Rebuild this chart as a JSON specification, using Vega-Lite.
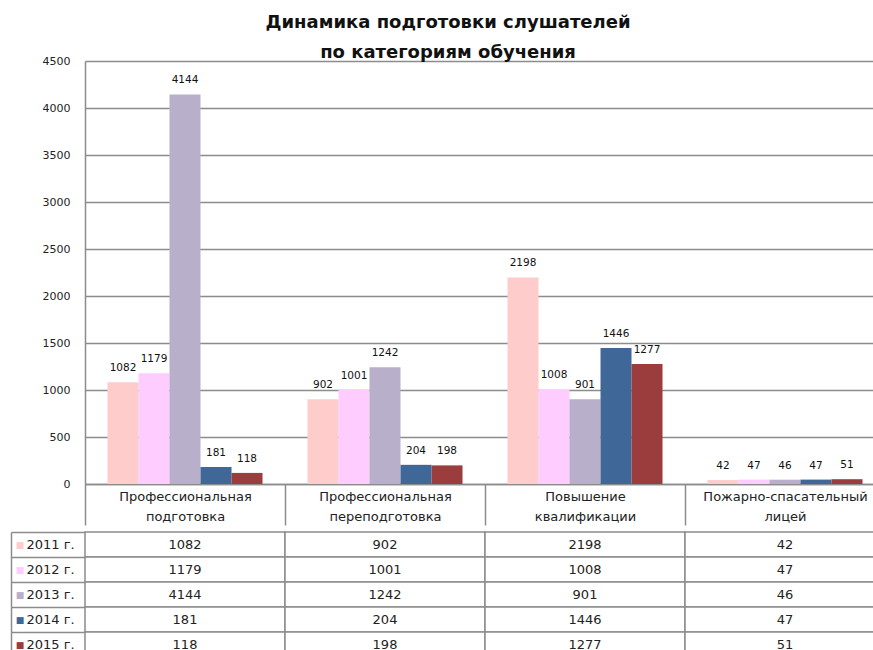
{
  "$schema": "https://vega.github.io/schema/vega-lite/v6.json",
  "padding": {"left": 10, "top": 14, "right": 0, "bottom": 0},
  "background": "white",
  "title": {
    "text": ["Динамика подготовки слушателей", "по категориям обучения"],
    "font": "DejaVu Sans",
    "fontSize": 18,
    "fontWeight": "bold",
    "color": "#111111",
    "anchor": "middle",
    "lineHeight": 30,
    "offset": -7
  },
  "config": {
    "font": "DejaVu Sans",
    "view": {"stroke": null},
    "concat": {"spacing": 0}
  },
  "datasets": {
    "d": [
      {"cat": "Профессиональная подготовка", "year": "2011 г.", "value": 1082},
      {"cat": "Профессиональная подготовка", "year": "2012 г.", "value": 1179},
      {"cat": "Профессиональная подготовка", "year": "2013 г.", "value": 4144},
      {"cat": "Профессиональная подготовка", "year": "2014 г.", "value": 181},
      {"cat": "Профессиональная подготовка", "year": "2015 г.", "value": 118},
      {"cat": "Профессиональная переподготовка", "year": "2011 г.", "value": 902},
      {"cat": "Профессиональная переподготовка", "year": "2012 г.", "value": 1001},
      {"cat": "Профессиональная переподготовка", "year": "2013 г.", "value": 1242},
      {"cat": "Профессиональная переподготовка", "year": "2014 г.", "value": 204},
      {"cat": "Профессиональная переподготовка", "year": "2015 г.", "value": 198},
      {"cat": "Повышение квалификации", "year": "2011 г.", "value": 2198},
      {"cat": "Повышение квалификации", "year": "2012 г.", "value": 1008},
      {"cat": "Повышение квалификации", "year": "2013 г.", "value": 901},
      {"cat": "Повышение квалификации", "year": "2014 г.", "value": 1446},
      {"cat": "Повышение квалификации", "year": "2015 г.", "value": 1277},
      {"cat": "Пожарно-спасательный лицей", "year": "2011 г.", "value": 42},
      {"cat": "Пожарно-спасательный лицей", "year": "2012 г.", "value": 47},
      {"cat": "Пожарно-спасательный лицей", "year": "2013 г.", "value": 46},
      {"cat": "Пожарно-спасательный лицей", "year": "2014 г.", "value": 47},
      {"cat": "Пожарно-спасательный лицей", "year": "2015 г.", "value": 51}
    ],
    "years": [
      {"year": "2011 г."},
      {"year": "2012 г."},
      {"year": "2013 г."},
      {"year": "2014 г."},
      {"year": "2015 г."}
    ]
  },
  "spacing": 0,
  "vconcat": [
    {
      "width": 800,
      "height": 423,
      "data": {"name": "d"},
      "encoding": {
        "x": {
          "field": "cat",
          "type": "nominal",
          "sort": ["Профессиональная подготовка", "Профессиональная переподготовка", "Повышение квалификации", "Пожарно-спасательный лицей"],
          "scale": {"paddingInner": 0, "paddingOuter": 0},
          "axis": {
            "title": null,
            "labelAngle": 0,
            "tickBand": "extent",
            "tickSize": 41,
            "tickColor": "#8c8c8c",
            "tickWidth": 1.5,
            "domainColor": "#8c8c8c",
            "domainWidth": 1.5,
            "labelPadding": -35,
            "labelFontSize": 13,
            "labelColor": "#222222",
            "labelLineHeight": 20,
            "labelExpr": "split(datum.label, ' ')"
          }
        },
        "xOffset": {
          "field": "year",
          "type": "nominal",
          "scale": {"paddingInner": 0, "paddingOuter": 0.725}
        },
        "y": {
          "field": "value",
          "type": "quantitative",
          "scale": {"domain": [0, 4500], "nice": false},
          "axis": {
            "title": null,
            "values": [0, 500, 1000, 1500, 2000, 2500, 3000, 3500, 4000, 4500],
            "format": "d",
            "ticks": false,
            "grid": true,
            "gridColor": "#8c8c8c",
            "gridWidth": 1.5,
            "domainColor": "#8c8c8c",
            "domainWidth": 1.5,
            "labelPadding": 15,
            "labelFontSize": 11,
            "labelColor": "#222222",
            "minExtent": 74,
            "maxExtent": 74
          }
        }
      },
      "layer": [
        {
          "mark": {"type": "bar"},
          "encoding": {
            "color": {
              "field": "year",
              "type": "nominal",
              "scale": {"range": ["#FFCCCC", "#FFCCFF", "#B8AFCB", "#3F6898", "#9B3D3D"]},
              "legend": null
            }
          }
        },
        {
          "mark": {"type": "text", "baseline": "middle", "dy": -14, "fontSize": 10.5, "color": "#111111"},
          "encoding": {"text": {"field": "value", "type": "quantitative", "format": "d"}}
        }
      ]
    },
    {
      "width": 800,
      "height": 125,
      "resolve": {"scale": {"y": "independent"}},
      "layer": [
        {
          "data": {"name": "d"},
          "encoding": {
            "x": {
              "field": "cat",
              "type": "nominal",
              "sort": ["Профессиональная подготовка", "Профессиональная переподготовка", "Повышение квалификации", "Пожарно-спасательный лицей"],
              "axis": null,
              "scale": {"paddingInner": 0, "paddingOuter": 0}
            },
            "y": {
              "field": "year",
              "type": "nominal",
              "scale": {"paddingInner": 0, "paddingOuter": 0},
              "axis": {
                "title": null,
                "domain": false,
                "tickBand": "extent",
                "tickSize": 74,
                "tickColor": "#8c8c8c",
                "tickWidth": 1.5,
                "labelAlign": "left",
                "labelBaseline": "middle",
                "labelPadding": -15,
                "labelFontSize": 13,
                "labelColor": "#222222",
                "minExtent": 74,
                "maxExtent": 74
              }
            }
          },
          "layer": [
            {"mark": {"type": "rect", "fill": "white", "stroke": "#8c8c8c", "strokeWidth": 1.5}},
            {
              "mark": {"type": "text", "baseline": "middle", "fontSize": 13, "color": "#222222"},
              "encoding": {"text": {"field": "value", "type": "quantitative", "format": "d"}}
            }
          ]
        },
        {
          "data": {"name": "years"},
          "mark": {"type": "rect", "opacity": 0},
          "encoding": {
            "y": {
              "field": "year",
              "type": "nominal",
              "scale": {"paddingInner": 0, "paddingOuter": 0},
              "axis": {
                "title": null,
                "orient": "left",
                "offset": 74,
                "ticks": false,
                "domain": true,
                "domainColor": "#8c8c8c",
                "domainWidth": 1.5,
                "labelExpr": "'■'",
                "labelAlign": "center",
                "labelBaseline": "middle",
                "labelPadding": -8.5,
                "labelFontSize": 9,
                "labelColor": {
                  "condition": [
                    {"test": "datum.value === '2011 г.'", "value": "#FFCCCC"},
                    {"test": "datum.value === '2012 г.'", "value": "#FFCCFF"},
                    {"test": "datum.value === '2013 г.'", "value": "#B8AFCB"},
                    {"test": "datum.value === '2014 г.'", "value": "#3F6898"}
                  ],
                  "value": "#9B3D3D"
                },
                "minExtent": 0,
                "maxExtent": 0
              }
            }
          }
        }
      ]
    }
  ]
}
